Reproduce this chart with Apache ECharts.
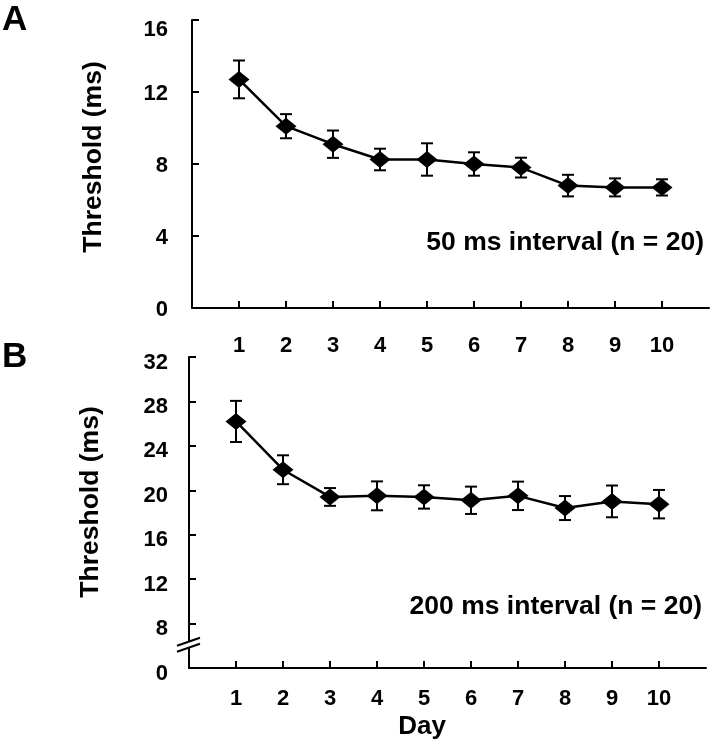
<!DOCTYPE html>
<html>
<head>
<meta charset="utf-8">
<script src="https://cdn.jsdelivr.net/npm/echarts@6/dist/echarts.min.js"></script>
<style>
html,body{margin:0;padding:0;background:#fff;}
#chart{width:712px;height:744px;}
</style>
</head>
<body>
<div id="chart"></div>
<script>
const days = [1, 2, 3, 4, 5, 6, 7, 8, 9, 10];
const meanA = [12.7, 10.1, 9.1, 8.25, 8.25, 8.0, 7.8, 6.8, 6.7, 6.7];
const errA  = [1.05, 0.67, 0.76, 0.6, 0.9, 0.65, 0.55, 0.6, 0.5, 0.45];
const meanB = [26.2, 21.85, 19.4, 19.5, 19.4, 19.1, 19.5, 18.4, 19.0, 18.75];
const errB  = [1.85, 1.3, 0.8, 1.3, 1.05, 1.23, 1.28, 1.08, 1.43, 1.28];
const yTicksA = [0, 4, 8, 12, 16];
const yTicksB = [8, 12, 16, 20, 24, 28, 32];
const labelA = 'A', labelB = 'B';
const noteA = '50 ms interval (n = 20)';
const noteB = '200 ms interval (n = 20)';
const yTitle = 'Threshold (ms)';
const xTitle = 'Day';

const FONT = '"Liberation Sans", Arial, Helvetica, sans-serif';
const black = '#000';
const TICK_FS = 22;
const TEXT_FS = 26.5;

const chart = echarts.init(document.getElementById('chart'), null, {renderer: 'canvas'});

function xAxisCfg(gridIndex, margin) {
  return {
    type: 'value', gridIndex, min: 0, max: 11, interval: 1,
    axisLine: {show: true, lineStyle: {color: black, width: 2}},
    axisTick: {show: true, inside: true, length: 7, lineStyle: {color: black, width: 2}, customValues: days},
    axisLabel: {customValues: days, margin, fontSize: TICK_FS, fontWeight: 'bold', color: black, fontFamily: FONT},
    splitLine: {show: false}
  };
}

function errSeries(means, errs, xi, yi) {
  return {
    type: 'custom', xAxisIndex: xi, yAxisIndex: yi, z: 2,
    data: days.map((d, i) => [d, means[i] - errs[i], means[i] + errs[i]]),
    renderItem: function (params, api) {
      const x = api.value(0);
      const lo = api.coord([x, api.value(1)]);
      const hi = api.coord([x, api.value(2)]);
      const hw = 6;
      const st = {stroke: black, lineWidth: 2};
      return {
        type: 'group',
        children: [
          {type: 'line', shape: {x1: lo[0], y1: lo[1], x2: hi[0], y2: hi[1]}, style: st},
          {type: 'line', shape: {x1: hi[0] - hw, y1: hi[1], x2: hi[0] + hw, y2: hi[1]}, style: st},
          {type: 'line', shape: {x1: lo[0] - hw, y1: lo[1], x2: lo[0] + hw, y2: lo[1]}, style: st}
        ]
      };
    }
  };
}

function lineSeries(means, xi, yi) {
  return {
    type: 'line', xAxisIndex: xi, yAxisIndex: yi, z: 3,
    data: days.map((d, i) => [d, means[i]]),
    symbol: 'diamond', symbolSize: [21, 17],
    itemStyle: {color: black},
    lineStyle: {color: black, width: 2.5},
    animation: false
  };
}

const tickText = {fontSize: TICK_FS, fontWeight: 'bold', color: black, fontFamily: FONT};

const option = {
  animation: false,
  backgroundColor: '#fff',
  grid: [
    {left: 192, top: 20, right: 3, bottom: 436},
    {left: 189, top: 357, right: 6, bottom: 76}
  ],
  xAxis: [xAxisCfg(0, 27), xAxisCfg(1, 20)],
  yAxis: [
    {
      type: 'value', gridIndex: 0, min: 0, max: 16, interval: 4,
      axisLine: {show: true, lineStyle: {color: black, width: 2}},
      axisTick: {show: true, inside: true, length: 7, lineStyle: {color: black, width: 2}, customValues: yTicksA},
      axisLabel: {
        customValues: yTicksA, margin: 24,
        formatter: v => (v === 16 ? '{top|' + v + '}' : '{n|' + v + '}'),
        rich: {top: Object.assign({padding: [20, 0, 0, 0]}, tickText), n: Object.assign({padding: [4, 0, 0, 0]}, tickText)}
      },
      splitLine: {show: false}
    },
    {
      type: 'value', gridIndex: 1, min: 4, max: 32, interval: 4,
      axisLine: {show: true, lineStyle: {color: black, width: 2}},
      axisTick: {show: true, inside: true, length: 7, lineStyle: {color: black, width: 2}, customValues: yTicksB},
      axisLabel: {
        customValues: [4].concat(yTicksB), margin: 21,
        formatter: v => '{n|' + (v === 4 ? '0' : String(v)) + '}',
        rich: {n: Object.assign({padding: [11, 0, 0, 0]}, tickText)}
      },
      splitLine: {show: false}
    }
  ],
  series: [
    errSeries(meanA, errA, 0, 0),
    lineSeries(meanA, 0, 0),
    errSeries(meanB, errB, 1, 1),
    lineSeries(meanB, 1, 1)
  ],
  graphic: [
    {type: 'text', left: 2, top: 3, style: {text: labelA, fontSize: 35, fontWeight: 'bold', fill: black, fontFamily: FONT}},
    {type: 'text', left: 2, top: 340, style: {text: labelB, fontSize: 35, fontWeight: 'bold', fill: black, fontFamily: FONT}},
    {type: 'text', x: 94, y: 157, rotation: Math.PI / 2, style: {text: yTitle, fontSize: TEXT_FS, fontWeight: 'bold', fill: black, fontFamily: FONT, align: 'center', verticalAlign: 'middle'}},
    {type: 'text', x: 91, y: 502, rotation: Math.PI / 2, style: {text: yTitle, fontSize: TEXT_FS, fontWeight: 'bold', fill: black, fontFamily: FONT, align: 'center', verticalAlign: 'middle'}},
    {type: 'text', x: 704, y: 243, style: {text: noteA, fontSize: TEXT_FS, fontWeight: 'bold', fill: black, fontFamily: FONT, align: 'right', verticalAlign: 'middle'}},
    {type: 'text', x: 702, y: 607, style: {text: noteB, fontSize: TEXT_FS, fontWeight: 'bold', fill: black, fontFamily: FONT, align: 'right', verticalAlign: 'middle'}},
    {type: 'text', x: 422, y: 727, style: {text: xTitle, fontSize: 26, fontWeight: 'bold', fill: black, fontFamily: FONT, align: 'center', verticalAlign: 'middle'}}
  ]
};
chart.setOption(option);

// axis break marks on panel B (between 0 and 8)
const bp = chart.convertToPixel({xAxisIndex: 1, yAxisIndex: 1}, [0, 6]);
const cx = bp[0], cy = bp[1];
chart.setOption({
  graphic: option.graphic.concat([
    {type: 'polygon', z: 10, shape: {points: [[cx - 12, cy + 6], [cx + 11, cy - 2], [cx + 11, cy - 8], [cx - 12, cy]]}, style: {fill: '#fff'}},
    {type: 'line', z: 11, shape: {x1: cx - 12, y1: cy + 6, x2: cx + 11, y2: cy - 2}, style: {stroke: black, lineWidth: 2}},
    {type: 'line', z: 11, shape: {x1: cx - 12, y1: cy, x2: cx + 11, y2: cy - 8}, style: {stroke: black, lineWidth: 2}}
  ])
});
</script>
</body>
</html>
